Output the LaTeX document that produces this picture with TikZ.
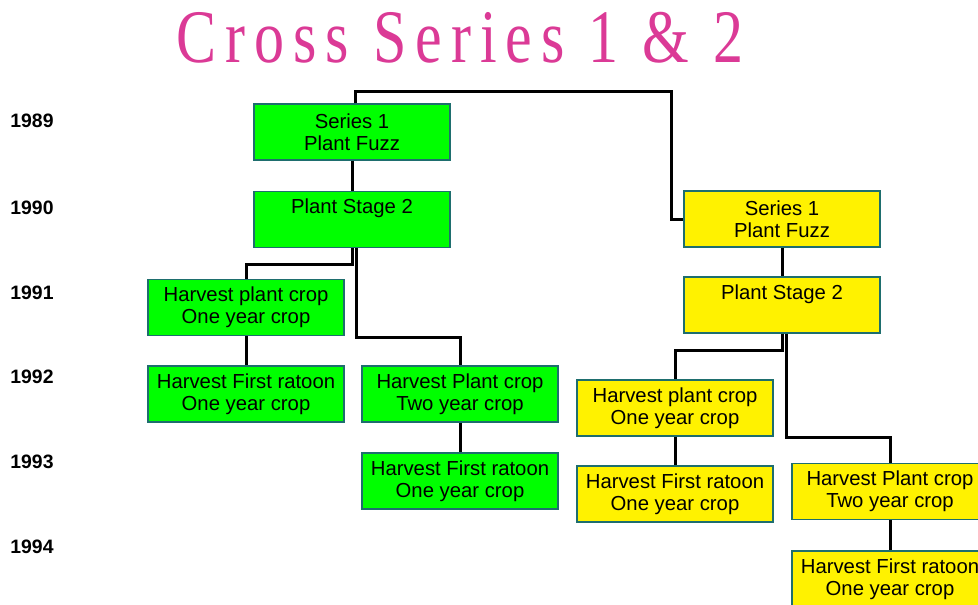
\documentclass[tikz,border=0pt]{standalone}
\usepackage{fontspec}
\setmainfont{Liberation Sans}
\newfontfamily\titlefont[LetterSpace=15]{Liberation Serif}
\usepackage{graphicx}
\definecolor{rose}{RGB}{219,58,150}
\definecolor{bord}{RGB}{30,110,110}
\begin{document}
\begin{tikzpicture}[x=0.5pt,y=-0.5pt,
    boite/.style={draw=bord, line width=0.6pt, minimum width=98pt, minimum height=28pt, inner sep=0pt, align=center, font=\fontsize{10.15}{11}\selectfont},
    vert/.style={boite, fill=green},
    jaune/.style={boite, fill=yellow},
    annee/.style={anchor=west, inner sep=0pt, font=\fontsize{9.7}{11}\selectfont\bfseries},
    lien/.style={line width=1.5pt}]
    \useasboundingbox (0,0) rectangle (978,604);
    \node (titre) at (460,38) {\scalebox{1}[1.26]{\titlefont\fontsize{30}{32}\selectfont\color{rose}Cross Series 1 \& 2}};
    % les annees
    \foreach \a/\y in {1989/121,1990/208,1991/293,1992/377,1993/462,1994/547}
        \node[annee] (an\a) at (10,\y) {\a};
    % serie verte
    \node[vert] (a1) at (352,132) {Series 1\\Plant Fuzz};
    \node[vert] (a2) at (352,219.5) {Plant Stage 2\\\phantom{One year crop}};
    \node[vert] (a3) at (246,307.5) {Harvest plant crop\\One year crop};
    \node[vert] (a4) at (246,394) {Harvest First ratoon\\One year crop};
    \node[vert] (a5) at (460,394) {Harvest Plant crop\\Two year crop};
    \node[vert] (a6) at (460,481) {Harvest First ratoon\\One year crop};
    % serie jaune
    \node[jaune] (b1) at (782,219) {Series 1\\Plant Fuzz};
    \node[jaune] (b2) at (782,305) {Plant Stage 2\\\phantom{One year crop}};
    \node[jaune] (b3) at (675,408) {Harvest plant crop\\One year crop};
    \node[jaune] (b4) at (675,494) {Harvest First ratoon\\One year crop};
    \node[jaune] (b5) at (890,491.5) {Harvest Plant crop\\Two year crop};
    \node[jaune] (b6) at (890,579) {Harvest First ratoon\\One year crop};
    % liens
    \coordinate (coude) at (671,92);
    \draw[lien] ([xshift=1.5pt]a1.north) |- (coude) |- (b1.west);
    \draw[lien] (a1.south) -- (a2.north);
    \draw[lien] (a2.south) -- ++(0,16) -| (a3.north);
    \draw[lien] ([xshift=2pt]a2.south) -- ++(0,89) -| (a5.north);
    \draw[lien] (a3.south) -- (a4.north);
    \draw[lien] (a5.south) -- (a6.north);
    \draw[lien] (b1.south) -- (b2.north);
    \draw[lien] (b2.south) -- ++(0,17) -| (b3.north);
    \draw[lien] ([xshift=2pt]b2.south) -- ++(0,104) -| (b5.north);
    \draw[lien] (b3.south) -- (b4.north);
    \draw[lien] (b5.south) -- (b6.north);
\end{tikzpicture}
\end{document}
